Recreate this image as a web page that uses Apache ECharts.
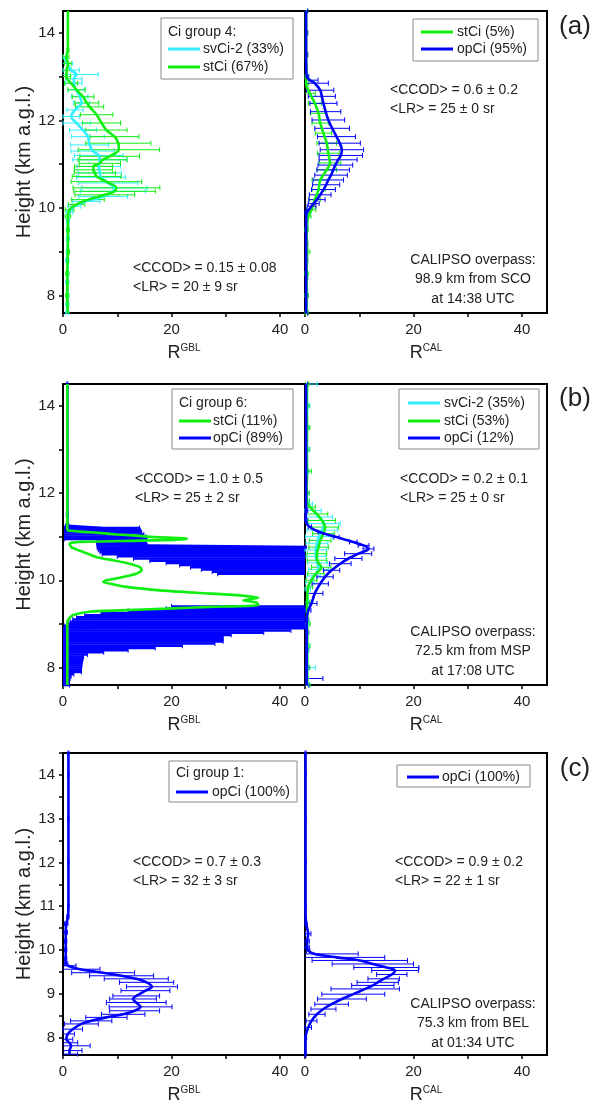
<!DOCTYPE html>
<html><head><meta charset="utf-8">
<script src="https://cdn.jsdelivr.net/npm/echarts@6/dist/echarts.min.js"></script>
<style>html,body{margin:0;padding:0;background:#fff}#c{width:602px;height:1108px}</style>
</head><body><div id="c"></div>
<script>
// ================= DATA =================
const xTickValues = [0, 10, 20, 30, 40];
const xLabelValues = [0, 20, 40];
const yTickValuesAB = [8, 9, 10, 11, 12, 13, 14];
const yLabelValuesAB = [8, 10, 12, 14];
const yTickValuesC = [8, 8.5, 9, 9.5, 10, 10.5, 11, 11.5, 12, 12.5, 13, 13.5, 14, 14.5];
const yLabelValuesC = [8, 9, 10, 11, 12, 13, 14];

// ---- panel (a), R^GBL ----
const aG_svCi_h   = [13.45, 13.3, 13.15, 13.05, 12.95, 12.85, 12.7, 12.55, 12.4, 12.24, 12.09, 11.94, 11.78, 11.63, 11.44, 11.3, 11.2, 11.1, 10.95, 10.8, 10.7, 10.57, 10.46, 10.38, 10.26, 10.15, 10.04, 9.9, 9.7, 9.3, 8.8, 8.3, 7.8, 7.6];
const aG_svCi_R   = [0.3, 0.8, 1.5, 2.5, 2.0, 2.0, 2.4, 3.1, 3.4, 2.2, 1.5, 2.5, 3.7, 4.6, 4.9, 5.5, 6.6, 6.8, 6.6, 6.8, 7.0, 8.3, 9.5, 9.2, 7.4, 4.3, 2.1, 1.2, 0.9, 0.9, 0.8, 0.8, 0.8, 0.8];
const aG_svCi_err = [0.3, 1.0, 1.5, 4.0, 1.5, 1.5, 1.5, 1.5, 1.5, 1.5, 1.5, 2.5, 2.5, 3.0, 3.5, 4.0, 4.5, 5.0, 4.0, 4.0, 4.5, 5.5, 6.0, 6.0, 4.5, 2.5, 1.2, 0.6, 0.3, 0.3, 0.3, 0.3, 0.3, 0.3];
const aG_stCi_h   = [14.5, 14.0, 13.6, 13.45, 13.3, 13.15, 13.0, 12.85, 12.7, 12.54, 12.4, 12.31, 12.13, 11.94, 11.78, 11.63, 11.48, 11.33, 11.18, 11.1, 11.02, 10.95, 10.87, 10.8, 10.72, 10.6, 10.46, 10.38, 10.3, 10.19, 10.08, 9.96, 9.81, 9.5, 9.0, 8.5, 8.0, 7.6];
const aG_stCi_R   = [0.9, 0.9, 0.9, 0.6, 0.9, 0.7, 0.6, 1.5, 2.5, 3.7, 4.4, 4.9, 6.2, 7.1, 8.0, 9.5, 10.2, 10.3, 8.6, 7.3, 6.8, 5.6, 5.6, 5.85, 6.2, 8.0, 9.85, 9.5, 7.7, 4.6, 2.5, 1.2, 0.9, 0.9, 0.9, 0.8, 0.8, 0.9];
const aG_stCi_err = [0, 0.1, 0.2, 0.5, 0.6, 0.8, 0.8, 1.2, 1.6, 2.0, 2.2, 2.6, 3.0, 3.5, 3.8, 4.5, 6.0, 7.5, 5.5, 4.5, 3.8, 3.5, 3.5, 3.8, 4.5, 6.5, 8.0, 7.5, 5.5, 3.0, 1.5, 0.8, 0.5, 0.3, 0.3, 0.3, 0.3, 0];

// ---- panel (a), R^CAL ----
const aC_stCi_h   = [14.5, 14.0, 13.5, 13.0, 12.84, 12.62, 12.39, 12.16, 11.94, 11.71, 11.48, 11.25, 11.03, 10.87, 10.64, 10.42, 10.19, 9.96, 9.81, 9.5, 9.0, 8.5, 8.0, 7.6];
const aC_stCi_R   = [0.2, 0.2, 0.2, 0.3, 0.2, 0.9, 1.8, 2.5, 2.8, 3.4, 4.0, 4.3, 4.6, 4.0, 2.8, 2.5, 1.8, 1.2, 0.6, 0.3, 0.4, 0.3, 0.3, 0.3];
const aC_stCi_err = [0.3, 0.3, 0.3, 0.3, 0.5, 1.0, 1.2, 1.5, 1.5, 1.5, 1.8, 2.0, 2.0, 1.8, 1.5, 1.2, 1.0, 0.8, 0.5, 0.3, 0.5, 0.3, 0.3, 0.3];
const aC_opCi_h   = [14.5, 14.0, 13.5, 13.0, 12.92, 12.85, 12.69, 12.55, 12.39, 12.2, 12.01, 11.82, 11.63, 11.48, 11.33, 11.2, 11.1, 10.98, 10.87, 10.75, 10.64, 10.53, 10.42, 10.3, 10.19, 10.1, 10.04, 9.96, 9.89, 9.6, 9.2, 8.8, 8.4, 8.0, 7.6];
const aC_opCi_R   = [0.2, 0.2, 0.2, 0.3, 0.9, 1.8, 2.8, 3.1, 3.4, 3.8, 4.3, 5.0, 5.8, 6.4, 6.8, 6.6, 6.1, 5.6, 5.2, 4.8, 4.3, 3.9, 3.4, 2.8, 2.2, 1.6, 1.2, 0.7, 0.3, 0.2, 0.2, 0.2, 0.2, 0.2, 0.2];
const aC_opCi_err = [0.3, 0.3, 0.3, 0.4, 1.5, 2.5, 2.5, 2.5, 2.5, 2.8, 3.0, 3.2, 3.5, 3.8, 4.0, 4.0, 3.5, 3.2, 3.0, 3.0, 2.8, 2.5, 2.2, 2.0, 1.5, 1.0, 0.8, 0.5, 0.3, 0.3, 0.3, 0.3, 0.3, 0.3, 0.3];

// ---- panel (b), R^GBL ----
const bG_opCi_h   = [14.5, 14.0, 13.0, 12.0, 11.5, 11.25, 11.2, 11.15, 11.1, 11.05, 11.0, 10.95, 10.9, 10.85, 10.8, 10.75, 10.7, 10.65, 10.6, 10.55, 10.5, 10.45, 10.4, 10.35, 10.3, 10.25, 10.2, 10.15, 10.0, 9.8, 9.6, 9.4, 9.35, 9.3, 9.25, 9.2, 9.15, 9.1, 9.05, 9.0, 8.95, 8.9, 8.85, 8.8, 8.75, 8.7, 8.65, 8.6, 8.55, 8.5, 8.45, 8.4, 8.35, 8.3, 8.25, 8.2, 8.15, 8.1, 8.05, 8.0, 7.95, 7.9, 7.85, 7.8, 7.75, 7.7, 7.65, 7.6];
const bG_opCi_R   = [0.8, 0.8, 0.8, 0.8, 0.8, 0.8, 7.2, 7.3, 7.4, 7.6, 7.8, 7.9, 10.8, 10.8, 10.9, 55, 55, 55, 55, 55, 55, 55, 55, 55, 55, 55, 55, 55, 70, 70, 70, 60, 60, 60, 60, 60, 60, 60, 60, 60, 60, 0.4, 0.4, 0.4, 0.4, 0.4, 0.4, 0.4, 0.4, 0.4, 0.4, 0.4, 0.4, 0.4, 0.4, 0.4, 0.4, 0.4, 0.4, 0.4, 0.4, 0.4, 0.4, 0.4, 0.4, 0.4, 0.4, 0.4];
const bG_opCi_err = [0.1, 0.1, 0.1, 0.1, 0.2, 0.3, 6.9, 7.0, 7.1, 7.3, 7.5, 7.6, 4.6, 4.6, 4.6, 48.7, 48.5, 48.2, 47.8, 45, 42, 39, 36, 33.5, 31.5, 29.5, 27.5, 26.5, 10, 10, 10, 40, 41, 48, 53, 56, 57.5, 58.2, 58.7, 59, 59.7, 45.6, 41.6, 36.6, 30.6, 29.1, 29.1, 29.1, 27.6, 21.6, 16.6, 11.6, 7.1, 4.1, 3.4, 3.3, 3.2, 3.1, 3.1, 3.0, 3.0, 3.0, 1.6, 1.1, 0.9, 0.8, 0.8, 0.8];
const bG_stCi_h   = [14.5, 13.0, 12.0, 11.5, 11.18, 11.14, 11.1, 11.05, 11.03, 10.99, 10.96, 10.94, 10.91, 10.88, 10.84, 10.76, 10.65, 10.53, 10.46, 10.38, 10.3, 10.23, 10.15, 10.06, 10.0, 9.96, 9.91, 9.85, 9.77, 9.71, 9.66, 9.6, 9.54, 9.49, 9.43, 9.39, 9.35, 9.31, 9.28, 9.2, 9.09, 9.0, 8.5, 8.0, 7.6];
const bG_stCi_R   = [0.8, 0.8, 0.8, 0.8, 0.8, 0.9, 5.3, 10.0, 12.9, 17.0, 22.8, 22.8, 14.2, 3.1, 1.2, 1.5, 3.7, 6.2, 9.2, 12.3, 14.2, 14.5, 13.5, 10.5, 8.0, 7.4, 9.2, 11.7, 17.9, 25.2, 32.0, 36.0, 33.2, 35.7, 36.0, 27.0, 19.1, 10.5, 4.9, 1.8, 0.9, 0.8, 0.8, 0.8, 0.8];

// ---- panel (b), R^CAL ----
const bC_svCi_h   = [14.5, 14.0, 13.5, 13.0, 12.5, 12.0, 11.75, 11.6, 11.45, 11.3, 11.15, 11.0, 10.85, 10.7, 10.55, 10.4, 10.25, 10.1, 9.95, 9.8, 9.5, 9.0, 8.5, 8.0, 7.6];
const bC_svCi_R   = [0.3, 0.4, 0.3, 0.4, 0.3, 0.3, 0.6, 1.5, 2.6, 3.5, 3.2, 2.6, 2.2, 2.0, 2.0, 2.3, 2.5, 1.6, 0.9, 0.5, 0.4, 0.4, 0.4, 0.4, 0.4];
const bC_svCi_err = [2.0, 0.5, 0.5, 0.5, 0.5, 0.5, 0.8, 1.5, 2.5, 3.0, 2.8, 2.5, 2.0, 2.0, 1.8, 1.8, 1.8, 1.2, 0.8, 0.5, 0.5, 0.5, 0.5, 1.5, 0.5];
const bC_stCi_h   = [14.5, 14.0, 13.5, 13.0, 12.5, 12.0, 11.83, 11.68, 11.52, 11.37, 11.22, 11.07, 10.91, 10.76, 10.61, 10.46, 10.3, 10.15, 10.0, 9.85, 9.5, 9.0, 8.5, 8.0, 7.6];
const bC_stCi_R   = [0.4, 0.3, 0.4, 0.3, 0.4, 0.3, 0.3, 0.9, 2.2, 3.1, 3.7, 3.4, 2.8, 2.5, 2.2, 2.2, 3.0, 2.0, 1.2, 0.6, 0.4, 0.4, 0.4, 0.4, 0.4];
const bC_stCi_err = [0.3, 0.5, 0.5, 0.5, 0.8, 0.5, 0.5, 1.0, 2.0, 2.5, 2.5, 2.0, 2.0, 1.8, 1.8, 1.8, 1.8, 1.5, 1.0, 0.8, 0.5, 0.5, 0.5, 0.5, 0.5];
const bC_opCi_h   = [14.5, 14.0, 13.5, 13.0, 12.5, 12.0, 11.6, 11.37, 11.22, 11.1, 10.99, 10.88, 10.8, 10.72, 10.61, 10.5, 10.38, 10.23, 10.08, 9.92, 9.7, 9.47, 9.31, 9.1, 8.8, 8.4, 8.0, 7.75, 7.6];
const bC_opCi_R   = [0.2, 0.2, 0.2, 0.2, 0.2, 0.2, 0.2, 0.1, 0.9, 2.8, 5.8, 8.9, 10.8, 11.7, 9.8, 8.0, 6.5, 4.9, 3.7, 2.8, 1.8, 1.2, 0.6, 0.3, 0.3, 0.3, 0.3, 0.3, 0.3];
const bC_opCi_err = [0.3, 0.3, 0.3, 0.3, 0.3, 0.3, 0.3, 0.3, 0.3, 0.4, 0.5, 0.7, 1.0, 1.0, 2.5, 2.5, 2.0, 1.5, 1.5, 1.5, 1.5, 1.0, 0.5, 0.4, 0.4, 0.4, 0.4, 3.0, 0.4];

// ---- panel (c), R^GBL ----
const cG_opCi_h   = [14.5, 14.0, 13.0, 12.0, 11.0, 10.75, 10.6, 10.4, 10.2, 10.0, 9.8, 9.68, 9.64, 9.56, 9.48, 9.41, 9.34, 9.26, 9.16, 9.07, 8.95, 8.88, 8.8, 8.7, 8.61, 8.53, 8.46, 8.38, 8.31, 8.19, 8.08, 7.96, 7.88, 7.81, 7.7, 7.62];
const cG_opCi_R   = [1.0, 1.0, 1.0, 1.0, 1.0, 0.9, 0.6, 0.5, 0.5, 0.5, 0.5, 0.6, 0.9, 3.1, 7.4, 10.8, 13.5, 15.4, 16.4, 15.2, 13.5, 12.9, 13.5, 14.3, 13.2, 11.1, 8.0, 5.2, 3.4, 1.8, 0.9, 0.6, 1.2, 1.5, 1.2, 1.2];
const cG_opCi_err = [0.1, 0.1, 0.1, 0.1, 0.1, 0.2, 0.3, 0.3, 0.2, 0.2, 0.2, 0.3, 1.5, 3.7, 5.8, 5.9, 5.9, 5.0, 4.7, 4.5, 4.3, 4.3, 5.5, 5.8, 4.6, 4.0, 3.8, 3.8, 3.1, 1.8, 1.2, 1.2, 1.5, 3.5, 2.3, 1.5];

// ---- panel (c), R^CAL ----
const cC_opCi_h   = [14.5, 14.0, 13.0, 12.0, 11.0, 10.6, 10.37, 10.2, 10.06, 9.98, 9.91, 9.83, 9.76, 9.68, 9.6, 9.53, 9.44, 9.34, 9.26, 9.19, 9.11, 8.99, 8.88, 8.76, 8.65, 8.53, 8.38, 8.23, 8.0, 7.6];
const cC_opCi_R   = [0.1, 0.1, 0.1, 0.1, 0.1, 0.2, 0.6, 0.4, 0.4, 0.6, 1.8, 5.8, 10.1, 12.5, 15.0, 16.6, 16.0, 14.5, 13.4, 12.5, 11.1, 8.9, 6.8, 4.9, 3.4, 2.2, 1.2, 0.6, 0.1, 0.1];
const cC_opCi_err = [0.1, 0.1, 0.1, 0.1, 0.1, 0.2, 0.5, 0.4, 0.4, 0.3, 8.0, 8.9, 8.8, 7.5, 6.0, 4.3, 2.8, 2.9, 3.8, 3.9, 6.3, 5.8, 4.5, 3.1, 2.3, 1.5, 1.0, 0.6, 0.2, 0.1];

// ---- texts ----
const panelLabels = ['(a)', '(b)', '(c)'];
const legendA_G = { title: 'Ci group 4:', items: [['svCi-2 (33%)', 'cyan'], ['stCi (67%)', 'green']] };
const legendA_C = { title: null, items: [['stCi (5%)', 'green'], ['opCi (95%)', 'blue']] };
const legendB_G = { title: 'Ci group 6:', items: [['stCi (11%)', 'green'], ['opCi (89%)', 'blue']] };
const legendB_C = { title: null, items: [['svCi-2 (35%)', 'cyan'], ['stCi (53%)', 'green'], ['opCi (12%)', 'blue']] };
const legendC_G = { title: 'Ci group 1:', items: [['opCi (100%)', 'blue']] };
const legendC_C = { title: null, items: [['opCi (100%)', 'blue']] };
const statsText = [
  ['<CCOD> = 0.15 \u00b1 0.08', '<LR> = 20 \u00b1 9 sr'],
  ['<CCOD> = 0.6 \u00b1 0.2', '<LR> = 25 \u00b1 0 sr'],
  ['<CCOD> = 1.0 \u00b1 0.5', '<LR> = 25 \u00b1 2 sr'],
  ['<CCOD> = 0.2 \u00b1 0.1', '<LR> = 25 \u00b1 0 sr'],
  ['<CCOD> = 0.7 \u00b1 0.3', '<LR> = 32 \u00b1 3 sr'],
  ['<CCOD> = 0.9 \u00b1 0.2', '<LR> = 22 \u00b1 1 sr']
];
const overpassText = [
  ['CALIPSO overpass:', '98.9 km from SCO', 'at 14:38 UTC'],
  ['CALIPSO overpass:', '72.5 km from MSP', 'at 17:08 UTC'],
  ['CALIPSO overpass:', '75.3 km from BEL', 'at 01:34 UTC']
];

// ================= STYLE / LAYOUT =================
const FONT = "'Liberation Sans', Arial, Helvetica, sans-serif";
const TXT = '#222';
const COL = { cyan: '#33eeff', green: '#11ee11', blue: '#0000ff' };
const XMAX = 44.6, YMIN = 7.6, YMAX = 14.5;
const PANEL_TOP = [11, 384, 753];
const PANEL_H = [302, 301, 302];
const GRID_LEFT = [63, 305];
const GRID_W = 242;

const grids = [], xAxes = [], yAxes = [];
for (let p = 0; p < 3; p++) {
  for (let s = 0; s < 2; s++) {
    const i = p * 2 + s;
    grids.push({ left: GRID_LEFT[s], top: PANEL_TOP[p], width: GRID_W, height: PANEL_H[p],
      show: true, borderColor: '#000', borderWidth: 2, backgroundColor: 'transparent' });
    xAxes.push({
      type: 'value', gridIndex: i, min: 0, max: XMAX,
      axisLine: { show: false },
      axisTick: { show: true, customValues: xTickValues, length: 4, lineStyle: { color: '#000', width: 1.5 } },
      axisLabel: { customValues: xLabelValues, margin: 9, fontSize: 15, color: TXT, fontFamily: FONT },
      splitLine: { show: false },
      name: s === 0 ? '{r|R}{s|GBL}' : '{r|R}{s|CAL}',
      nameLocation: 'middle', nameGap: 30,
      nameTextStyle: { rich: {
        r: { fontSize: 18, color: TXT, fontFamily: FONT, lineHeight: 20 },
        s: { fontSize: 10, color: TXT, fontFamily: FONT, verticalAlign: 'top' } } }
    });
    const ticks = p === 2 ? yTickValuesC : yTickValuesAB;
    const labels = p === 2 ? yLabelValuesC : yLabelValuesAB;
    yAxes.push({
      type: 'value', gridIndex: i, min: YMIN, max: YMAX,
      axisLine: { show: false },
      axisTick: { show: s === 0, customValues: ticks, length: 4, lineStyle: { color: '#000', width: 1.5 } },
      axisLabel: { show: s === 0, customValues: labels, margin: 8, fontSize: 15, color: TXT, fontFamily: FONT },
      splitLine: { show: false },
      name: s === 0 ? 'Height (km a.g.l.)' : '',
      nameLocation: 'middle', nameGap: 24,
      nameTextStyle: { fontSize: 20, color: TXT, fontFamily: FONT }
    });
  }
}

function lineSeries(i, h, R, color, smooth) {
  return { type: 'line', xAxisIndex: i, yAxisIndex: i, data: h.map((v, k) => [R[k], v]),
    symbol: 'none', showSymbol: false, clip: true, animation: false, silent: true,
    smooth: smooth === undefined ? 0.3 : smooth,
    lineStyle: { color, width: 2.6 }, itemStyle: { color } };
}
function errSeries(i, h, R, err, color, lw) {
  return { type: 'custom', coordinateSystem: 'cartesian2d', xAxisIndex: i, yAxisIndex: i,
    data: h.map((v, k) => [R[k], v, err[k]]), encode: { x: 0, y: 1 }, animation: false, silent: true,
    renderItem: function (params, api) {
      const v = api.value(0), y = api.value(1), e = api.value(2);
      const children = [];
      if (e > 0) {
        const lo = v - e, hi = v + e;
        if (!(hi < 0 || lo > XMAX)) {
          const p1 = api.coord([Math.max(lo, 0), y]);
          const p2 = api.coord([Math.min(hi, XMAX), y]);
          const st = { stroke: color, lineWidth: lw };
          children.push({ type: 'line', shape: { x1: p1[0], y1: p1[1], x2: p2[0], y2: p2[1] }, style: st });
          if (lo >= 0) children.push({ type: 'line', shape: { x1: p1[0], y1: p1[1] - 2.5, x2: p1[0], y2: p1[1] + 2.5 }, style: { stroke: color, lineWidth: 1 } });
          if (hi <= XMAX) children.push({ type: 'line', shape: { x1: p2[0], y1: p2[1] - 2.5, x2: p2[0], y2: p2[1] + 2.5 }, style: { stroke: color, lineWidth: 1 } });
        }
      }
      return { type: 'group', children };
    } };
}

const series = [
  // (a) GBL
  errSeries(0, aG_svCi_h, aG_svCi_R, aG_svCi_err, COL.cyan, 1),
  errSeries(0, aG_stCi_h, aG_stCi_R, aG_stCi_err, COL.green, 1),
  lineSeries(0, aG_svCi_h, aG_svCi_R, COL.cyan),
  lineSeries(0, aG_stCi_h, aG_stCi_R, COL.green),
  // (a) CAL
  lineSeries(1, aC_stCi_h, aC_stCi_R, COL.green),
  errSeries(1, aC_stCi_h, aC_stCi_R, aC_stCi_err, COL.green, 1),
  errSeries(1, aC_opCi_h, aC_opCi_R, aC_opCi_err, COL.blue, 1),
  lineSeries(1, aC_opCi_h, aC_opCi_R, COL.blue),
  // (b) GBL
  errSeries(2, bG_opCi_h, bG_opCi_R, bG_opCi_err, COL.blue, 2.6),
  lineSeries(2, bG_opCi_h, bG_opCi_R, COL.blue, false),
  lineSeries(2, bG_stCi_h, bG_stCi_R, COL.green, 0.2),
  // (b) CAL
  errSeries(3, bC_svCi_h, bC_svCi_R, bC_svCi_err, COL.cyan, 1),
  errSeries(3, bC_stCi_h, bC_stCi_R, bC_stCi_err, COL.green, 1),
  lineSeries(3, bC_svCi_h, bC_svCi_R, COL.cyan),
  lineSeries(3, bC_stCi_h, bC_stCi_R, COL.green),
  errSeries(3, bC_opCi_h, bC_opCi_R, bC_opCi_err, COL.blue, 1),
  lineSeries(3, bC_opCi_h, bC_opCi_R, COL.blue),
  // (c) GBL
  errSeries(4, cG_opCi_h, cG_opCi_R, cG_opCi_err, COL.blue, 1),
  lineSeries(4, cG_opCi_h, cG_opCi_R, COL.blue),
  // (c) CAL
  errSeries(5, cC_opCi_h, cC_opCi_R, cC_opCi_err, COL.blue, 1),
  lineSeries(5, cC_opCi_h, cC_opCi_R, COL.blue)
];

// ---- graphic (legends, annotations, labels) ----
const graphic = [];
function txt(x, y, text, size, align) {
  graphic.push({ type: 'text', x, y, z: 100, silent: true,
    style: { text, fill: TXT, font: size + 'px ' + FONT, textAlign: align || 'left', textVerticalAlign: 'middle',
      align: align || 'left', verticalAlign: 'middle' } });
}
function legend(box, lineX, textX, titleY, itemYs, lg) {
  graphic.push({ type: 'rect', z: 99, silent: true, shape: { x: box[0], y: box[1], width: box[2], height: box[3] },
    style: { fill: '#fff', stroke: '#8a8a8a', lineWidth: 1 } });
  if (lg.title) txt(lineX, titleY, lg.title, 14);
  lg.items.forEach((it, k) => {
    graphic.push({ type: 'line', z: 100, silent: true, shape: { x1: lineX, y1: itemYs[k], x2: lineX + 32, y2: itemYs[k] },
      style: { stroke: COL[it[1]], lineWidth: 3 } });
    txt(textX, itemYs[k], it[0], 14);
  });
}
legend([161, 18, 132, 61], 168, 203, 32, [49, 67], legendA_G);
legend([413, 19, 125, 42], 421, 457, 0, [32, 49], legendA_C);
legend([172, 389, 121, 60], 179, 213, 403, [421, 438], legendB_G);
legend([399, 389, 140, 60], 408, 444, 0, [403, 421, 438], legendB_C);
legend([169, 761, 128, 41], 176, 212, 773, [792], legendC_G);
legend([397, 765, 133, 22], 407, 442, 0, [777], legendC_C);

const statPos = [[133, 268], [390, 90], [135, 479], [400, 479], [133, 862], [395, 862]];
statsText.forEach((t, k) => { txt(statPos[k][0], statPos[k][1], t[0], 14); txt(statPos[k][0], statPos[k][1] + 19, t[1], 14); });
const overY = [260, 632, 1004];
overpassText.forEach((t, k) => { t.forEach((line, j) => txt(473, overY[k] + j * 19.5, line, 14, 'center')); });
const labelY = [27, 399, 769];
panelLabels.forEach((t, k) => txt(575, labelY[k], t, 26, 'center'));

const chart = echarts.init(document.getElementById('c'), null, { renderer: 'canvas' });
chart.setOption({ animation: false, backgroundColor: '#fff', grid: grids, xAxis: xAxes, yAxis: yAxes, series, graphic });
</script></body></html>
